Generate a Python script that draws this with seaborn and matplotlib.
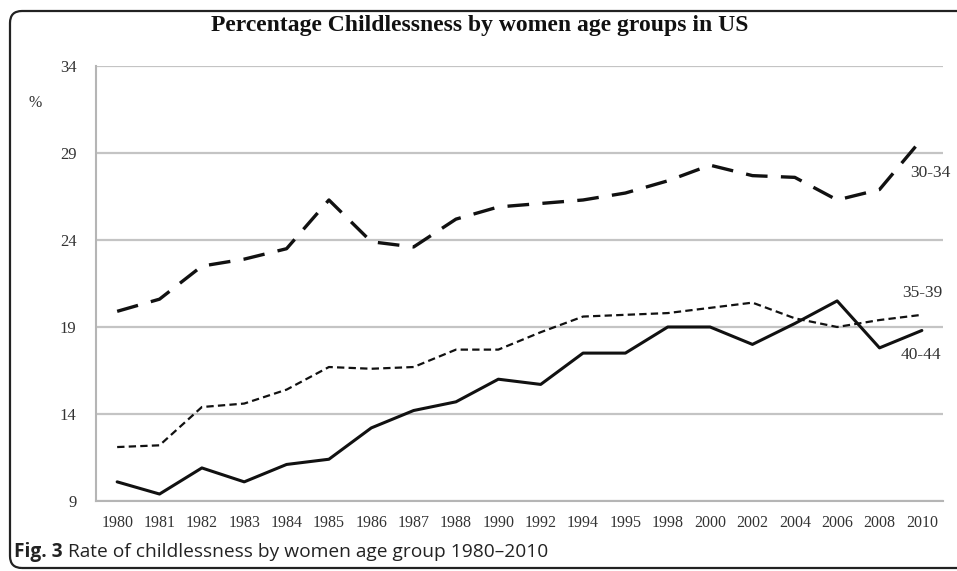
import pandas as pd
import matplotlib
matplotlib.use('Agg')
import matplotlib.pyplot as plt
import seaborn as sns
from matplotlib.patches import FancyBboxPatch
from matplotlib.transforms import IdentityTransform

years = ['1980', '1981', '1982', '1983', '1984', '1985', '1986', '1987', '1988', '1990',
         '1992', '1994', '1995', '1998', '2000', '2002', '2004', '2006', '2008', '2010']
pct_30_34 = [19.9, 20.6, 22.5, 22.9, 23.5, 26.3, 23.9, 23.6, 25.2, 25.9,
             26.1, 26.3, 26.7, 27.4, 28.3, 27.7, 27.6, 26.3, 26.9, 29.8]
pct_35_39 = [12.1, 12.2, 14.4, 14.6, 15.4, 16.7, 16.6, 16.7, 17.7, 17.7,
             18.7, 19.6, 19.7, 19.8, 20.1, 20.4, 19.5, 19.0, 19.4, 19.7]
pct_40_44 = [10.1, 9.4, 10.9, 10.1, 11.1, 11.4, 13.2, 14.2, 14.7, 16.0,
             15.7, 17.5, 17.5, 19.0, 19.0, 18.0, 19.2, 20.5, 17.8, 18.8]
groups = ['30-34', '35-39', '40-44']
y_ticks = [9, 14, 19, 24, 29, 34]

# long format for seaborn
rows = []
for g, vals in zip(groups, [pct_30_34, pct_35_39, pct_40_44]):
    for i, v in enumerate(vals):
        rows.append({'pos': i, 'year': years[i], 'pct': v, 'group': g})
df = pd.DataFrame(rows)

sns.set_style('white')
plt.rcParams['font.family'] = ['Liberation Serif', 'DejaVu Serif']

fig = plt.figure(figsize=(9.57, 5.71), dpi=100)
ax = fig.add_axes([0.1003, 0.1226, 0.8851, 0.7618])

ax.set_axisbelow(True)
for t in y_ticks:
    ax.axhline(t, color='#c4c4c4', lw=1.6, zorder=0)

dash_map = {'30-34': (6.5, 4), '35-39': (3.3, 1.9), '40-44': ''}
sns.lineplot(data=df, x='pos', y='pct', style='group', style_order=groups,
             dashes=dash_map, color='#111111', legend=False, ax=ax)
widths = {'30-34': 2.4, '35-39': 1.6, '40-44': 2.2}
for line, g in zip(ax.get_lines()[len(y_ticks):], groups):
    line.set_linewidth(widths[g])

ax.set_xlim(-0.5, len(years) - 0.5)
ax.set_ylim(9, 34)
ax.set_xticks(range(len(years)))
ax.set_xticklabels(years)
ax.set_xticks([i - 0.5 for i in range(len(years) + 1)], minor=True)
ax.set_yticks(y_ticks)
ax.tick_params(axis='x', which='major', length=0, pad=10, labelsize=11.5, labelcolor='#333333')
ax.tick_params(axis='x', which='minor', length=5, width=1.2, color='#b5b5b5', direction='out')
ax.tick_params(axis='y', length=6, width=1.2, color='#b5b5b5', pad=8, labelsize=12,
               labelcolor='#333333')
ax.set_xlabel('')
ax.set_ylabel('')
for s in ['top', 'right']:
    ax.spines[s].set_visible(False)
for s in ['left', 'bottom']:
    ax.spines[s].set_color('#b5b5b5')
    ax.spines[s].set_linewidth(1.5)

# series labels
ax.text(19.19, 27.85, '30-34', ha='center', va='center', fontsize=12.5, color='#333333')
ax.text(19.0, 20.95, '35-39', ha='center', va='center', fontsize=12.5, color='#333333')
ax.text(18.98, 17.4, '40-44', ha='center', va='center', fontsize=12.5, color='#333333')

fig.text(0.037, 0.82, '%', ha='center', va='center', fontsize=11.5, color='#333333')
fig.text(0.501, 0.956, 'Percentage Childlessness by women age groups in US',
         ha='center', va='center', fontsize=17, fontweight='bold', color='#111111')

# caption
cap_font = ['Open Sans', 'DejaVu Sans']
t1 = fig.text(0.0146, 0.033, 'Fig. 3', ha='left', va='center', fontsize=13.8,
              fontweight='bold', family=cap_font, color='#222222')
fig.canvas.draw()
bb = t1.get_window_extent()
fig.text((bb.x1 + 5) / fig.bbox.width, 0.033, 'Rate of childlessness by women age group 1980\u20132010',
         ha='left', va='center', fontsize=13.8, family=cap_font, color='#222222')

# rounded frame around the figure
frame = FancyBboxPatch((10, 3), 1000, 557, boxstyle='round,pad=0,rounding_size=12',
                       transform=IdentityTransform(), fill=False, lw=1.6, ec='#222222')
fig.patches.append(frame)

fig.savefig('out.png', dpi=100)
